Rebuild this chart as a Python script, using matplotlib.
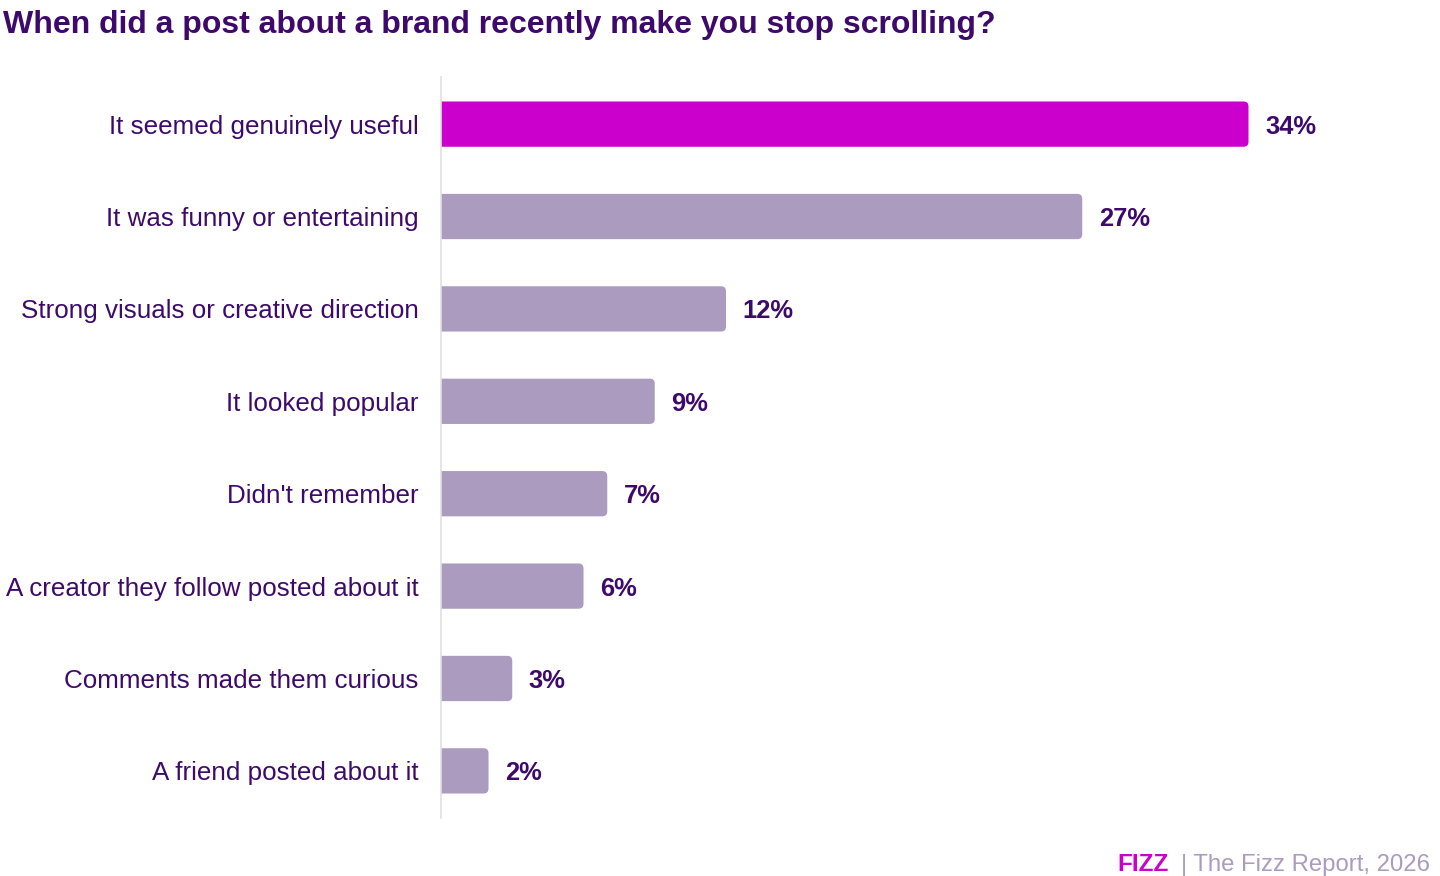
import matplotlib.pyplot as plt
from matplotlib.patches import FancyBboxPatch

# chart data
categories = [
    "It seemed genuinely useful",
    "It was funny or entertaining",
    "Strong visuals or creative direction",
    "It looked popular",
    "Didn't remember",
    "A creator they follow posted about it",
    "Comments made them curious",
    "A friend posted about it",
]
values = [34, 27, 12, 9, 7, 6, 3, 2]
highlight = [True, False, False, False, False, False, False, False]

DARK = "#3d0a6b"
MAGENTA = "#cc00cc"
LILAC = "#aa9bbf"

plt.rcParams["font.family"] = ["Liberation Sans", "DejaVu Sans"]

fig = plt.figure(figsize=(14.4, 8.76), dpi=100)
ax = fig.add_axes([441 / 1440, 1 - 818 / 876, 950 / 1440, 741 / 876])

xmax = 40
ax.set_xlim(0, xmax)
ax.set_ylim(len(categories) - 0.49, -0.51)

# data units per pixel, used to keep the rounded corners circular
xpp = xmax / 950
ypp = len(categories) / 741
radius = 5 * xpp

ypos = list(range(len(categories)))
bars = ax.barh(ypos, values, height=0.49, color="none")
for b, hl in zip(bars, highlight):
    x0, y0 = b.get_x(), b.get_y()
    w, h = b.get_width(), b.get_height()
    patch = FancyBboxPatch((x0 - 2 * radius, y0), w + 2 * radius, h,
                           boxstyle=f"round,pad=0,rounding_size={radius}",
                           mutation_aspect=ypp / xpp,
                           facecolor=MAGENTA if hl else LILAC, edgecolor="none")
    ax.add_patch(patch)

for y, v in zip(ypos, values):
    ax.annotate(f"{v}%", (v, y), xytext=(12, 0), textcoords="offset points",
                va="center_baseline", ha="left", fontsize=18.4, fontweight="bold", color=DARK)

ax.set_yticks(ypos)
ax.set_yticklabels(categories, fontsize=18.7, color=DARK, va="center_baseline")
ax.tick_params(axis="y", length=0, pad=16)
ax.set_xticks([])
for s in ["top", "right", "bottom"]:
    ax.spines[s].set_visible(False)
ax.spines["left"].set_color("#e0e0e0")
ax.spines["left"].set_linewidth(1.2)
ax.spines["left"].set_zorder(5)

fig.text(3 / 1440, 1 - 25 / 876, "When did a post about a brand recently make you stop scrolling?",
         fontsize=23, fontweight="bold", color=DARK, va="center", ha="left")

fig.text(1430 / 1440, 1 - 862 / 876, "| The Fizz Report, 2026", fontsize=17.2,
         color=LILAC, ha="right", va="center_baseline")
fig.text(1169 / 1440, 1 - 862 / 876, "FIZZ", fontsize=17.5, fontweight="bold",
         color=MAGENTA, ha="right", va="center_baseline")

fig.savefig("out.png", dpi=100)
